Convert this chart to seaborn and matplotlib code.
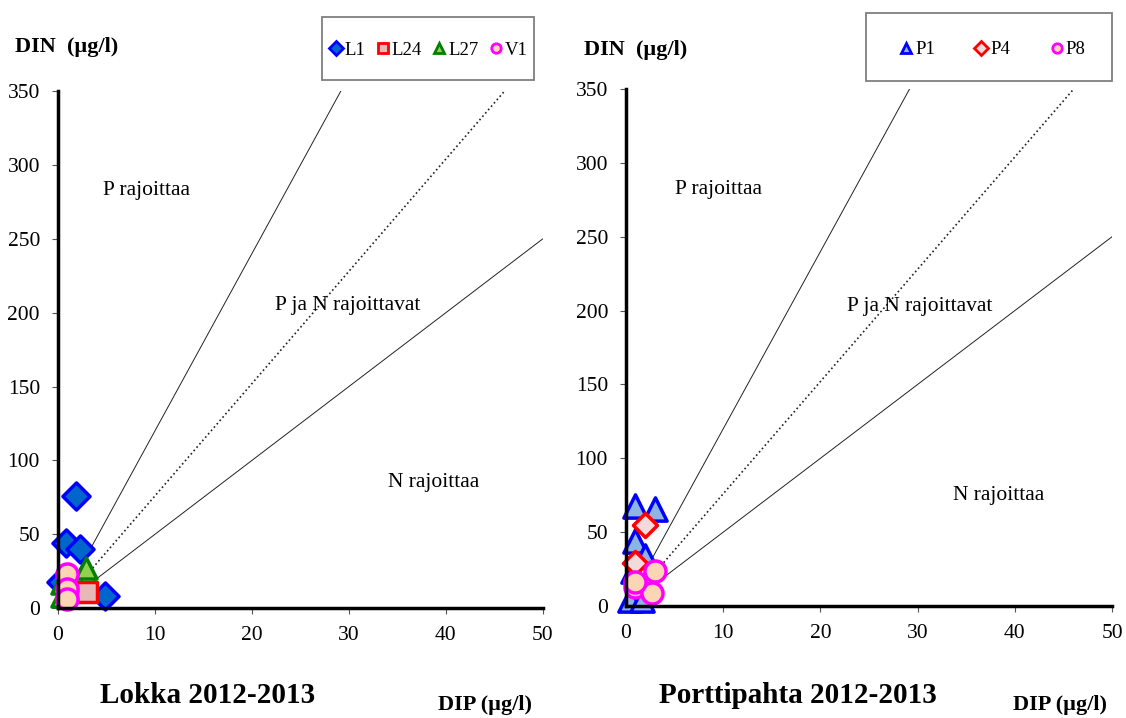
import matplotlib
matplotlib.use("Agg")
import matplotlib.pyplot as plt
from matplotlib.patches import Rectangle
import seaborn as sns
import pandas as pd
import numpy as np

sns.set_theme(style="white")
plt.rcParams['font.family'] = ['Liberation Serif', 'DejaVu Serif']
plt.rcParams['text.color'] = 'black'
plt.rcParams['xtick.color'] = 'black'
plt.rcParams['ytick.color'] = 'black'

# ---- data ----
L1_dip = [1.9, 0.8, 2.3, 4.9, 0.3]
L1_din = [76, 44, 40, 8, 18]
L24_dip = [3.0]
L24_din = [11]
L27_dip = [2.9, 0.4, 0.4]
L27_din = [27, 17, 8]
V1_dip = [0.9, 0.9, 0.9]
V1_din = [23, 13, 6]

P1_dip = [0.9, 3.0, 0.9, 2.0, 0.7, 0.4, 1.6]
P1_din = [68, 66, 44, 34, 24, 4, 4]
P4_dip = [2.0, 0.9]
P4_din = [55, 29]
P8_dip = [3.0, 0.9, 2.7, 0.9]
P8_din = [24, 13, 9, 16]

ratio_slopes = [12, 7.6, 5]
ratio_styles = ['-', ':', '-']

left_series = [
    ("L1", L1_dip, L1_din, "D", "#0066CC", "#0000FF", 190),
    ("L24", L24_dip, L24_din, "s", "#E6B9B8", "#FF0000", 190),
    ("L27", L27_dip, L27_din, "^", "#92D050", "#008000", 230),
    ("V1", V1_dip, V1_din, "o", "#FCD5B5", "#FF00FF", 230),
]
right_series = [
    ("P1", P1_dip, P1_din, "^", "#8EB4E3", "#0000FF", 280),
    ("P4", P4_dip, P4_din, "D", "#F2DCDB", "#FF0000", 150),
    ("P8", P8_dip, P8_din, "o", "#FCD5B5", "#FF00FF", 230),
]

titles = ["Lokka 2012-2013", "Porttipahta 2012-2013"]
region_labels = ["P rajoittaa", "P ja N rajoittavat", "N rajoittaa"]

fig = plt.figure(figsize=(11.26, 7.18), dpi=100)
ax_l = fig.add_axes([0.0515, 0.153, 0.4305, 0.720])
ax_r = fig.add_axes([0.556, 0.156, 0.4316, 0.720])

def draw(ax, series, title, label_pos, title_x, dip_x, din_xy,
         leg_center, box, ncol, colsp):
    xs = np.array([0, 50])
    for s, ls in zip(ratio_slopes, ratio_styles):
        sns.lineplot(x=xs, y=s * xs, ax=ax, color='#222222',
                     lw=0.7 if ls == '-' else 1.2, linestyle=ls, zorder=1)
    handles = []
    for name, x, y, m, fc, ec, size in series:
        df = pd.DataFrame({"DIP": x, "DIN": y})
        sns.scatterplot(data=df, x="DIP", y="DIN", ax=ax, marker=m, s=size,
                        color=fc, edgecolor=ec, linewidth=2.5, zorder=3, clip_on=False)
        handles.append(plt.Line2D([], [], marker=m, linestyle='', markersize=6.8,
                                  markerfacecolor=fc, markeredgecolor=ec,
                                  markeredgewidth=2.0, label=name))
    ax.set_xlim(0, 50)
    ax.set_ylim(0, 350)
    ax.set_xticks(range(0, 51, 10))
    ax.set_yticks(range(0, 351, 50))
    ax.set_xlabel("")
    ax.set_ylabel("")
    for sp in ['top', 'right']:
        ax.spines[sp].set_visible(False)
    for sp in ['left', 'bottom']:
        ax.spines[sp].set_linewidth(2.5)
        ax.spines[sp].set_color('black')
        ax.spines[sp].set_zorder(4)
    ax.tick_params(axis='both', labelsize=15.5, colors='black', direction='out',
                   length=4, width=0.8, left=True, bottom=True, pad=9,
                   color='#555555')
    for lab, (tx, ty) in zip(region_labels, label_pos):
        ax.text(tx, ty, lab, fontsize=15.5, ha='left', va='center', color='black')
    fig.text(title_x, 0.032, title, fontsize=21, fontweight='bold', ha='center', va='center')
    fig.text(dip_x, 0.018, "DIP (µg/l)", fontsize=16, fontweight='bold', ha='center', va='center')
    fig.text(din_xy[0], din_xy[1], "DIN  (µg/l)", fontsize=16, fontweight='bold', ha='left', va='center')
    fig.patches.append(Rectangle((box[0], box[1]), box[2], box[3], transform=fig.transFigure,
                                 fill=False, edgecolor='#7F7F7F', linewidth=1.3))
    fig.legend(handles=handles, loc='center', bbox_to_anchor=leg_center,
               ncol=ncol, frameon=False, fontsize=13.5,
               handlelength=0.55, handletextpad=0.2, columnspacing=colsp,
               borderpad=0, borderaxespad=0)

draw(ax_l, left_series, titles[0],
     [(4.6, 283), (22.4, 205), (34.0, 85)],
     0.184, 0.431, (0.013, 0.9345),
     (0.381, 0.930), (0.286, 0.889, 0.188, 0.087), 4, 0.65)
draw(ax_r, right_series, titles[1],
     [(5.0, 282), (22.7, 203), (33.6, 75)],
     0.709, 0.9415, (0.519, 0.930),
     (0.882, 0.931), (0.769, 0.887, 0.219, 0.095), 3, 2.2)

fig.savefig("out.png", dpi=100)
